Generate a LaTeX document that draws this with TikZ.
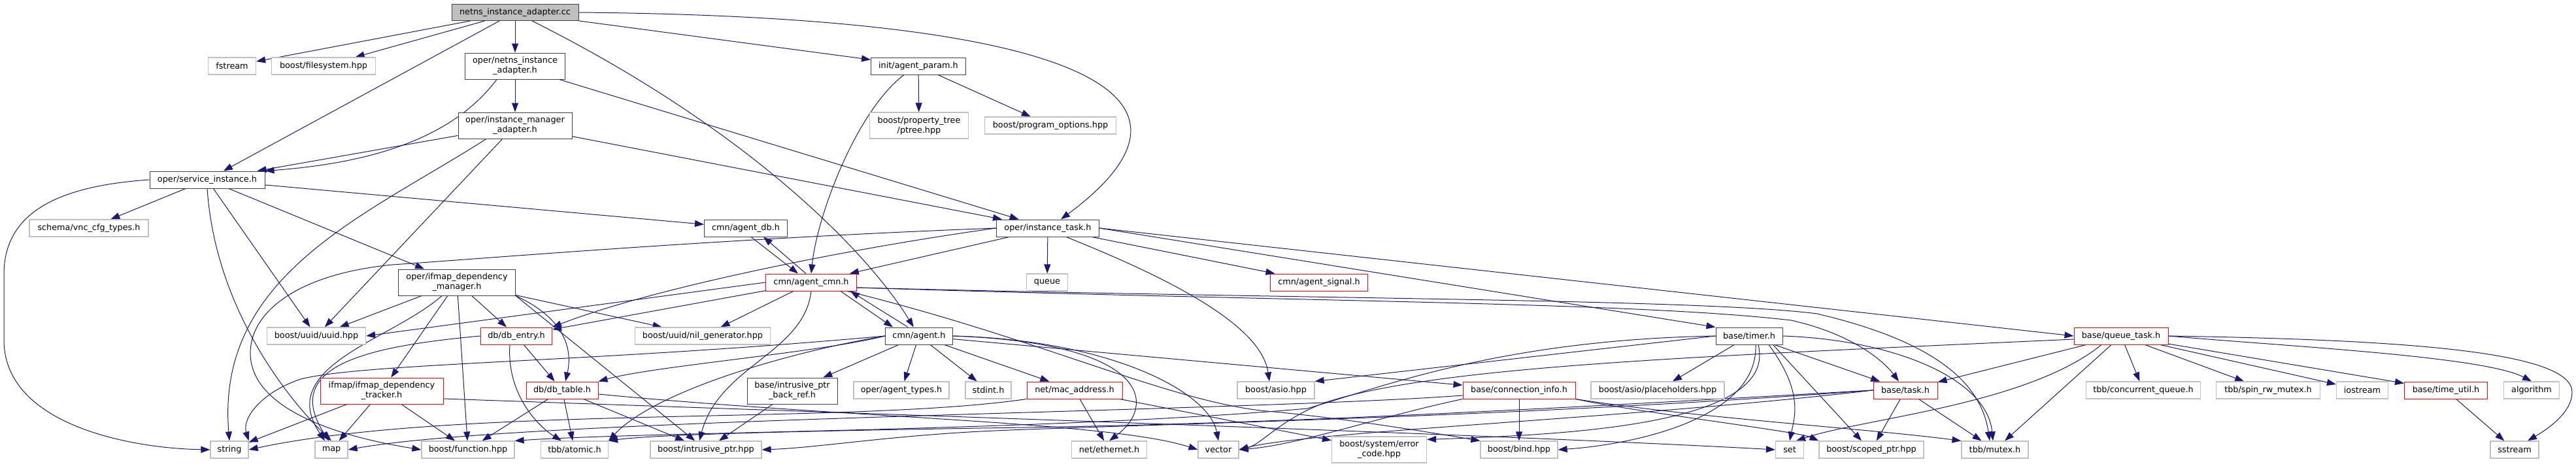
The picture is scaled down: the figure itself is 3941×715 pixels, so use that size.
\documentclass[tikz,border=0pt]{standalone}
\usepackage{fontspec}
\setmainfont{DejaVu Sans}
\usetikzlibrary{arrows.meta}
\usetikzlibrary{backgrounds}
\definecolor{edgeblue}{HTML}{191970}

\begin{document}
\begin{tikzpicture}[x=1pt, y=-1pt,
  hdr/.style={draw=black!75, fill=white, line width=1pt, minimum height=26pt, inner sep=0pt, align=center, font=\fontsize{12.8}{15}\selectfont},
  ext/.style={hdr, draw=black!25, line width=1.2pt},
  trunc/.style={hdr, draw=red},
  rootfile/.style={hdr, fill=black!25},
  twoline/.style={minimum height=40pt},
  dep/.style={draw=edgeblue, line width=1pt, -{Triangle[length=14pt,width=10pt]}}]

\useasboundingbox (0,0) rectangle (3941,715);

% top rows
\node[rootfile, minimum width=194pt, minimum height=25pt] (root) at (788,19) {netns\_instance\_adapter.cc};
\node[ext, minimum width=73pt] (fstream) at (355,101) {fstream};
\node[ext, minimum width=159pt] (fsys) at (495,101) {boost/filesystem.hpp};
\node[hdr, twoline, minimum width=153pt] (netnsh) at (788,101) {oper/netns\_instance\\\_adapter.h};
\node[hdr, minimum width=145pt] (param) at (1405,101) {init/agent\_param.h};
\node[hdr, twoline, minimum width=174pt] (imgr) at (788,192) {oper/instance\_manager\\\_adapter.h};
\node[ext, twoline, minimum width=151pt] (ptree) at (1406,192) {boost/property\_tree\\/ptree.hpp};
\node[ext, minimum width=201pt] (progopt) at (1607,192) {boost/program\_options.hpp};
\node[hdr, minimum width=176pt] (svcinst) at (317,275) {oper/service\_instance.h};
\node[ext, minimum width=182pt] (schema) at (136,349) {schema/vnc\_cfg\_types.h};
\node[hdr, minimum width=127pt] (agentdb) at (1141,349) {cmn/agent\_db.h};
\node[hdr, minimum width=157pt] (itask) at (1603,349) {oper/instance\_task.h};

% middle rows
\node[hdr, twoline, minimum width=179pt] (ifmgr) at (699,432) {oper/ifmap\_dependency\\\_manager.h};
\node[trunc, minimum width=139pt] (cmn) at (1241,432) {cmn/agent\_cmn.h};
\node[ext, minimum width=63pt] (queue) at (1602,432) {queue};
\node[trunc, minimum width=149pt] (signal) at (2018,432) {cmn/agent\_signal.h};
\node[ext, minimum width=151pt] (uuid) at (484,514) {boost/uuid/uuid.hpp};
\node[trunc, minimum width=109pt] (dbentry) at (790,514) {db/db\_entry.h};
\node[ext, minimum width=207pt] (nilgen) at (1075,514) {boost/uuid/nil\_generator.hpp};
\node[hdr, minimum width=103pt] (agent) at (1406,514) {cmn/agent.h};
\node[hdr, minimum width=102pt] (timer) at (2676,514) {base/timer.h};
\node[trunc, minimum width=144pt] (qtask) at (3245,514) {base/queue\_task.h};

\node[trunc, twoline, minimum width=188pt] (tracker) at (584,598) {ifmap/ifmap\_dependency\\\_tracker.h};
\node[trunc, minimum width=110pt] (dbtable) at (860,597) {db/db\_table.h};
\node[hdr, twoline, minimum width=138pt] (backref) at (1212,598) {base/intrusive\_ptr\\\_back\_ref.h};
\node[ext, minimum width=146pt] (agtypes) at (1379,597) {oper/agent\_types.h};
\node[ext, minimum width=70pt] (stdint) at (1512,597) {stdint.h};
\node[trunc, minimum width=146pt] (mac) at (1644,597) {net/mac\_address.h};
\node[ext, minimum width=118pt] (asio) at (1952,597) {boost/asio.hpp};
\node[trunc, minimum width=172pt] (conninfo) at (2324,597) {base/connection\_info.h};
\node[ext, minimum width=204pt] (placeholders) at (2536,597) {boost/asio/placeholders.hpp};
\node[trunc, minimum width=98pt] (task) at (2915,597) {base/task.h};
\node[ext, minimum width=175pt] (concq) at (3279,597) {tbb/concurrent\_queue.h};
\node[ext, minimum width=159pt] (spinrw) at (3470,597) {tbb/spin\_rw\_mutex.h};
\node[ext, minimum width=79pt] (iostream) at (3614,597) {iostream};
\node[trunc, minimum width=127pt] (timeutil) at (3742,597) {base/time\_util.h};
\node[ext, minimum width=85pt] (algorithm) at (3873,597) {algorithm};

% bottom row
\node[ext, minimum width=58pt] (string) at (351,688) {string};
\node[ext, minimum width=50pt] (map) at (507,688) {map};
\node[ext, minimum width=142pt] (function) at (716,688) {boost/function.hpp};
\node[ext, minimum width=103pt] (atomic) at (879,688) {tbb/atomic.h};
\node[ext, minimum width=170pt] (iptr) at (1080,688) {boost/intrusive\_ptr.hpp};
\node[ext, minimum width=115pt] (ethernet) at (1697,688) {net/ethernet.h};
\node[ext, minimum width=62pt] (vector) at (1864,688) {vector};
\node[ext, twoline, minimum width=145pt] (errcode) at (2110,688) {boost/system/error\\\_code.hpp};
\node[ext, minimum width=118pt] (bind) at (2324,688) {boost/bind.hpp};
\node[ext, minimum width=43pt] (set) at (2738,688) {set};
\node[ext, minimum width=160pt] (scoped) at (2863,688) {boost/scoped\_ptr.hpp};
\node[ext, minimum width=102pt] (mutex) at (3052,688) {tbb/mutex.h};
\node[ext, minimum width=74pt] (sstream) at (3847,688) {sstream};

\begin{pgfonlayer}{background}
% root file
\draw[dep] (root) -- (fstream);
\draw[dep] (root) -- (fsys);
\draw[dep] (root) -- (svcinst);
\draw[dep] (root) -- (netnsh);
\draw[dep] (root) -- (param);
\draw[dep] (root) .. controls (1150,200) and (1330,390) .. (agent);
\draw[dep] (root.east) .. controls (1600,25) and (1900,130) .. ([xshift=20pt]itask.north);

% adapters
\draw[dep] (netnsh) -- (imgr);
\draw[dep] ([xshift=-28pt]netnsh.south) .. controls (690,215) and (560,250) .. (svcinst.north east);
\draw[dep] (netnsh) -- (itask);
\draw[dep] (imgr) -- (svcinst);
\draw[dep] ([xshift=-44pt]imgr.south) .. controls (560,330) and (330,420) .. (string.north);
\draw[dep] (imgr) -- (uuid);
\draw[dep] (imgr) -- (itask);

% agent_param
\draw[dep] (param) -- (ptree);
\draw[dep] (param) -- (progopt);
\draw[dep] ([xshift=-22pt]param.south) .. controls (1310,170) and (1250,330) .. (cmn.north);

% service_instance
\draw[dep] (svcinst) -- (schema);
\draw[dep] (svcinst.west) .. controls (80,285) and (6,330) .. (6,420) -- (6,520) .. controls (6,650) and (200,686) .. (string.west);
\draw[dep] (svcinst.south) .. controls (330,480) and (450,620) .. (map.north);
\draw[dep] (svcinst) -- (uuid);
\draw[dep] (svcinst) -- (ifmgr);
\draw[dep] (svcinst) -- (agentdb);

% agent_db <-> agent_cmn
\draw[dep] ([xshift=8pt]agentdb.south) -- ([xshift=-20pt]cmn.north);
\draw[dep] ([xshift=-8pt]cmn.north) -- ([xshift=27pt]agentdb.south);

% instance_task
\draw[dep] (itask) -- (cmn);
\draw[dep] (itask) -- (queue);
\draw[dep] (itask) -- (signal);
\draw[dep] (itask.east) -- (timer.north west);
\draw[dep] (itask.east) -- (qtask.west);
\draw[dep] ([xshift=28pt]itask.south) .. controls (1800,430) and (1930,500) .. ([xshift=-10pt]asio.north);
\draw[dep] (itask.west) .. controls (1300,380) and (1000,440) .. (dbentry.north east);
\draw[dep] (itask.west) .. controls (1100,365) and (750,395) .. (600,405) .. controls (450,420) and (383,480) .. (383,540) .. controls (383,620) and (500,665) .. (function.west);

% ifmap_dependency_manager
\draw[dep] (ifmgr) -- (uuid);
\draw[dep] (ifmgr) -- (tracker);
\draw[dep] ([xshift=-23pt]ifmgr.south) .. controls (600,520) and (420,560) .. ([xshift=-10pt]map.north);
\draw[dep] (ifmgr) -- (function);
\draw[dep] (ifmgr) -- (dbentry);
\draw[dep] (ifmgr) -- (nilgen);
\draw[dep] (ifmgr.south east) .. controls (870,490) and (875,540) .. ([xshift=5pt]dbtable.north);
\draw[dep] (ifmgr.south east) -- (iptr);

% agent_cmn
\draw[dep] (cmn.west) -- (uuid.east);
\draw[dep] (cmn) -- (dbentry);
\draw[dep] (cmn) -- (nilgen);
\draw[dep] ([xshift=45pt]cmn.south) -- ([xshift=-40pt]agent.north);
\draw[dep] (cmn.south) .. controls (1230,540) and (1100,560) .. ([xshift=-10pt]iptr.north);
\draw[dep] ([yshift=-8pt]cmn.east) .. controls (2000,462) and (2500,462) .. (2740,490) .. controls (2830,510) and (2880,550) .. ([xshift=-10pt]task.north);
\draw[dep] ([yshift=-8pt]cmn.east) .. controls (2000,458) and (2600,457) .. (2780,480) .. controls (2950,520) and (3030,580) .. ([xshift=-8pt]mutex.north);
\draw[dep] (cmn) .. controls (1600,520) and (1800,620) .. (1950,630) .. controls (2050,640) and (2150,655) .. (bind.north west);

% agent
\draw[dep] ([xshift=-17pt]agent.north) -- ([xshift=60pt]cmn.south);
\draw[dep] (agent.west) .. controls (900,555) and (560,555) .. (460,580) .. controls (400,600) and (370,640) .. (string.north east);
\draw[dep] (agent.west) .. controls (1200,540) and (1000,600) .. (atomic.north east);
\draw[dep] (agent.west) .. controls (1250,540) and (1000,560) .. (dbtable.north east);
\draw[dep] (agent) -- (backref);
\draw[dep] (agent) -- (agtypes);
\draw[dep] (agent) -- (stdint);
\draw[dep] (agent) -- (mac);
\draw[dep] (agent.east) .. controls (1760,525) and (1770,620) .. (ethernet.north);
\draw[dep] (agent.east) .. controls (1700,520) and (1850,600) .. (vector.north);
\draw[dep] (agent) -- (conninfo);

% db
\draw[dep] (dbentry.west) .. controls (560,530) and (430,560) .. ([xshift=-4pt]map.north);
\draw[dep] ([xshift=-10pt]dbentry.south) .. controls (775,600) and (820,650) .. ([xshift=-20pt]atomic.north);
\draw[dep] (dbentry) -- (dbtable);
\draw[dep] (dbtable) -- (function);
\draw[dep] (dbtable) -- (atomic);
\draw[dep] (dbtable) -- (iptr);
\draw[dep] ([yshift=-6pt]dbtable.east) .. controls (1300,640) and (1700,645) .. (vector.west);

% tracker, back_ref
\draw[dep] (tracker) -- (string);
\draw[dep] (tracker) -- (map);
\draw[dep] (tracker) -- (function);
\draw[dep] ([yshift=-12pt]tracker.east) .. controls (1300,632) and (2300,665) .. (set.west);
\draw[dep] (backref) -- (iptr);

% mac_address
\draw[dep] (mac) -- (ethernet);
\draw[dep] (mac.south west) .. controls (1300,650) and (700,620) .. (string.east);
\draw[dep] (mac) -- (errcode);

% connection_info
\draw[dep] (conninfo) -- (bind);
\draw[dep] ([yshift=-8pt]conninfo.west) .. controls (1900,630) and (800,640) .. (map.east);
\draw[dep] (conninfo.south west) .. controls (2100,640) and (1990,680) .. (vector.east);
\draw[dep] (conninfo.south east) .. controls (2500,630) and (2750,660) .. (scoped.north west);
\draw[dep] (conninfo.south east) .. controls (2600,640) and (2850,655) .. (mutex.north west);

% timer
\draw[dep] (timer.west) -- (asio.north east);
\draw[dep] (timer) -- (placeholders);
\draw[dep] ([xshift=30pt]timer.south) .. controls (2760,600) and (2745,640) .. (set.north);
\draw[dep] ([xshift=-15pt]timer.south east) -- ([xshift=-15pt]scoped.north);
\draw[dep] (timer) -- (task);
\draw[dep] (timer.east) .. controls (2900,520) and (3040,580) .. ([xshift=-3pt]mutex.north);
\draw[dep] (timer.west) .. controls (2300,520) and (2120,590) .. (2000,625) .. controls (1600,660) and (1000,660) .. (function.north east);
\draw[dep] ([xshift=10pt]timer.south) .. controls (2690,640) and (2500,680) .. (bind.east);
\draw[dep] ([xshift=14pt]timer.south) .. controls (2720,650) and (2400,665) .. ([yshift=-5pt]errcode.north east);

% task
\draw[dep] (task) -- (scoped);
\draw[dep] (task) -- (mutex);
\draw[dep] (task.west) .. controls (2500,640) and (2000,660) .. (vector.east);
\draw[dep] (task.west) .. controls (2300,630) and (1900,650) .. (1500,655) .. controls (1200,660) and (1000,665) .. (atomic.north east);
\draw[dep] (task.west) .. controls (2300,640) and (1700,650) .. (1500,660) .. controls (1350,668) and (1250,685) .. (iptr.east);

% queue_task
\draw[dep] (qtask) -- (task);
\draw[dep] ([xshift=-30pt]qtask.south) .. controls (3100,620) and (2850,640) .. ([xshift=10pt]set.north);
\draw[dep] (qtask) -- (mutex);
\draw[dep] (qtask) -- (concq);
\draw[dep] (qtask) -- (spinrw);
\draw[dep] (qtask) -- (iostream);
\draw[dep] (qtask) -- (timeutil);
\draw[dep] (qtask.east) .. controls (3500,530) and (3800,545) .. (algorithm.north);
\draw[dep] (qtask.east) .. controls (3700,520) and (3935,540) .. (3935,600) .. controls (3935,630) and (3900,655) .. ([xshift=20pt]sstream.north);
\draw[dep] ([yshift=-5pt]qtask.west) .. controls (2600,545) and (2200,560) .. (2030,615) .. controls (1960,640) and (1930,680) .. (vector.east);
\draw[dep] (timeutil) -- (sstream);
\end{pgfonlayer}

\end{tikzpicture}
\end{document}
